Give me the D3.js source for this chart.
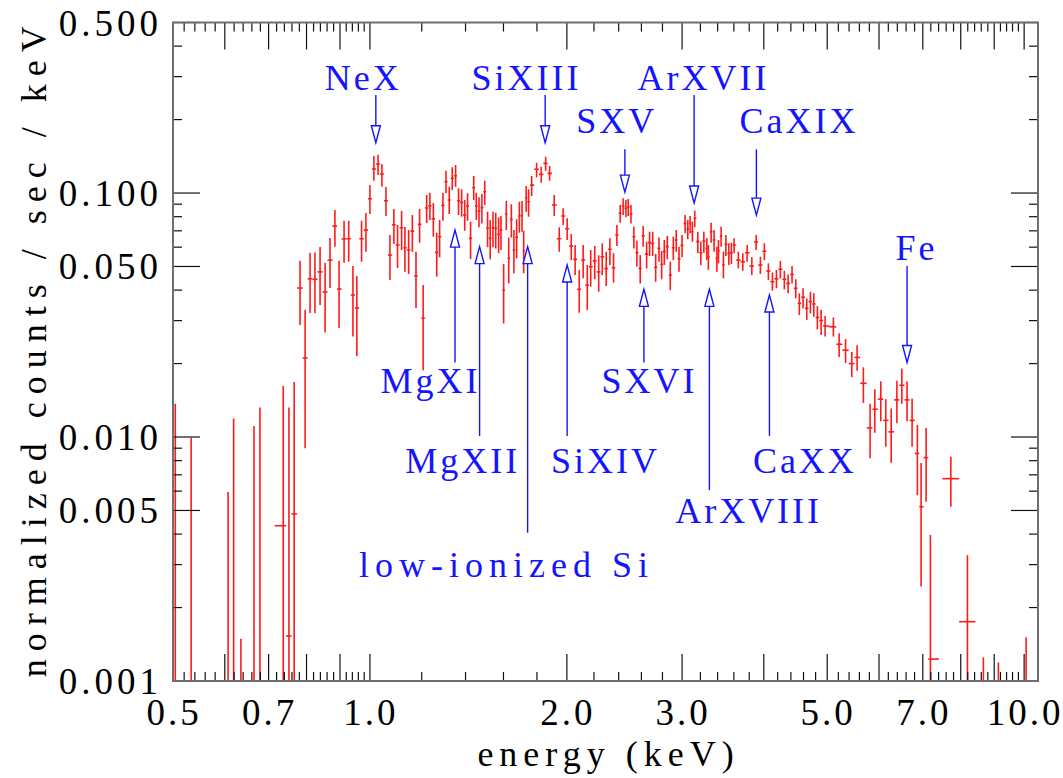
<!DOCTYPE html>
<html>
<head>
<meta charset="utf-8">
<script src="https://cdn.jsdelivr.net/npm/d3@7"></script>
<style>
  body { margin: 0; background: #fff; }
  text { font-family: "Liberation Serif", "Times New Roman", serif; }
</style>
</head>
<body>
<div id="chart"></div>
<script>
// spectrum: bin energy (keV), normalized counts / sec / keV, lower and upper error
var energy = [
  0.504, 0.533, 0.607, 0.619, 0.635, 0.665, 0.679, 0.737, 0.752, 0.766,
  0.782, 0.796, 0.810, 0.824, 0.839, 0.854, 0.869, 0.884, 0.897, 0.913,
  0.928, 0.942, 0.955, 0.971, 0.986, 1.000, 1.014, 1.029, 1.043, 1.058,
  1.073, 1.088, 1.102, 1.118, 1.131, 1.146, 1.161, 1.176, 1.191, 1.206,
  1.221, 1.235, 1.250, 1.265, 1.278, 1.293, 1.307, 1.322, 1.336, 1.352,
  1.366, 1.381, 1.396, 1.410, 1.425, 1.441, 1.454, 1.468, 1.483, 1.498,
  1.513, 1.527, 1.542, 1.557, 1.573, 1.586, 1.601, 1.616, 1.630, 1.645,
  1.660, 1.676, 1.692, 1.708, 1.718, 1.733, 1.748, 1.767, 1.798, 1.827,
  1.856, 1.882, 1.913, 1.947, 1.974, 2.002, 2.031, 2.059, 2.089, 2.118,
  2.149, 2.175, 2.206, 2.237, 2.265, 2.297, 2.327, 2.357, 2.385, 2.413,
  2.438, 2.462, 2.482, 2.506, 2.532, 2.559, 2.589, 2.616, 2.648, 2.676,
  2.705, 2.734, 2.766, 2.792, 2.818, 2.848, 2.878, 2.909, 2.939, 2.968,
  3.000, 3.032, 3.061, 3.086, 3.111, 3.137, 3.171, 3.205, 3.239, 3.273,
  3.291, 3.323, 3.358, 3.391, 3.410, 3.442, 3.470, 3.500, 3.537, 3.569,
  3.603, 3.657, 3.715, 3.772, 3.835, 3.894, 3.952, 4.008, 4.065, 4.123,
  4.182, 4.240, 4.300, 4.357, 4.418, 4.476, 4.533, 4.593, 4.653, 4.713,
  4.770, 4.830, 4.894, 4.963, 5.110, 5.214, 5.334, 5.452, 5.555, 5.679,
  5.815, 5.912, 6.038, 6.145, 6.263, 6.390, 6.502, 6.623, 6.741, 6.868,
  6.958, 7.082, 7.190, 7.726, 8.191, 8.664, 9.134, 10.07
];
var rate = [
  0.0005, 0.0005, 0.0005, 0.0005, 0.0005, 0.0005, 0.0005, 0.00433, 0.00153, 0.00484,
  0.0408, 0.0211, 0.0445, 0.0443, 0.0475, 0.0393, 0.0531, 0.0732, 0.0404, 0.0648,
  0.0650, 0.0382, 0.0338, 0.0650, 0.0705, 0.0948, 0.1254, 0.1315, 0.1196, 0.0930,
  0.0557, 0.0741, 0.0612, 0.0721, 0.0597, 0.0584, 0.0698, 0.0457, 0.0744, 0.0307,
  0.0868, 0.0887, 0.0785, 0.0571, 0.0662, 0.0890, 0.1113, 0.0936, 0.1149, 0.1177,
  0.0930, 0.0916, 0.0812, 0.0885, 0.0652, 0.1051, 0.0885, 0.0844, 0.0871, 0.1012,
  0.0717, 0.0652, 0.0721, 0.0717, 0.0677, 0.0705, 0.0400, 0.0820, 0.0540, 0.0780,
  0.0584, 0.0658, 0.0805, 0.0810, 0.0580, 0.0957, 0.0921, 0.1078, 0.1251, 0.1193,
  0.1323, 0.1204, 0.0893, 0.0650, 0.0805, 0.0714, 0.0606, 0.0535, 0.0403, 0.0531,
  0.0419, 0.0499, 0.0527, 0.0475, 0.0548, 0.0490, 0.0588, 0.0494, 0.0673, 0.0826,
  0.0885, 0.0866, 0.0876, 0.0820, 0.0662, 0.0569, 0.0491, 0.0668, 0.0562, 0.0626,
  0.0622, 0.0496, 0.0593, 0.0510, 0.0575, 0.0603, 0.0461, 0.0597, 0.0642, 0.0538,
  0.0610, 0.0751, 0.0712, 0.0751, 0.0694, 0.0788, 0.0632, 0.0569, 0.0636, 0.0593,
  0.0548, 0.0694, 0.0642, 0.0540, 0.0580, 0.0666, 0.0507, 0.0616, 0.0566, 0.0569,
  0.0612, 0.0531, 0.0523, 0.0569, 0.0502, 0.0630, 0.0507, 0.0577, 0.0479, 0.0433,
  0.0445, 0.0487, 0.0443, 0.0426, 0.0464, 0.0407, 0.0353, 0.0374, 0.0337, 0.0359,
  0.0351, 0.0309, 0.0300, 0.0285, 0.0283, 0.0240, 0.0227, 0.0200, 0.0212, 0.0166,
  0.0109, 0.0130, 0.0143, 0.0117, 0.0105, 0.0142, 0.0163, 0.0142, 0.0117, 0.00857,
  0.00518, 0.00823, 0.00123, 0.00675, 0.00175, 0.0005, 0.0005, 0.0005
];
var rateLo = [
  0.0003, 0.0003, 0.0003, 0.0003, 0.0003, 0.0003, 0.0003, 0.0003, 0.0003, 0.0003,
  0.0288, 0.0090, 0.0322, 0.0322, 0.0348, 0.0268, 0.0408, 0.0603, 0.0280, 0.0518,
  0.0523, 0.0258, 0.0215, 0.0523, 0.0575, 0.0820, 0.1123, 0.1185, 0.1061, 0.0805,
  0.0440, 0.0618, 0.0493, 0.0584, 0.0476, 0.0466, 0.0575, 0.0338, 0.0626, 0.0188,
  0.0753, 0.0775, 0.0662, 0.0454, 0.0545, 0.0770, 0.0997, 0.0820, 0.1029, 0.1061,
  0.0812, 0.0800, 0.0700, 0.0770, 0.0536, 0.0936, 0.0775, 0.0724, 0.0751, 0.0893,
  0.0599, 0.0535, 0.0599, 0.0593, 0.0566, 0.0584, 0.0292, 0.0705, 0.0426, 0.0658,
  0.0469, 0.0540, 0.0688, 0.0694, 0.0469, 0.0838, 0.0800, 0.0972, 0.1160, 0.1102,
  0.1234, 0.1123, 0.0805, 0.0575, 0.0739, 0.0642, 0.0531, 0.0461, 0.0323, 0.0447,
  0.0332, 0.0413, 0.0443, 0.0394, 0.0461, 0.0416, 0.0507, 0.0429, 0.0606, 0.0756,
  0.0812, 0.0795, 0.0805, 0.0751, 0.0593, 0.0499, 0.0426, 0.0603, 0.0491, 0.0552,
  0.0552, 0.0433, 0.0523, 0.0443, 0.0507, 0.0535, 0.0400, 0.0531, 0.0575, 0.0476,
  0.0545, 0.0684, 0.0646, 0.0684, 0.0632, 0.0724, 0.0566, 0.0507, 0.0569, 0.0531,
  0.0484, 0.0626, 0.0575, 0.0476, 0.0515, 0.0603, 0.0447, 0.0552, 0.0507, 0.0512,
  0.0566, 0.0491, 0.0480, 0.0523, 0.0461, 0.0584, 0.0466, 0.0531, 0.0440, 0.0398,
  0.0407, 0.0447, 0.0403, 0.0388, 0.0426, 0.0370, 0.0316, 0.0337, 0.0302, 0.0321,
  0.0311, 0.0276, 0.0262, 0.0258, 0.0258, 0.0213, 0.0201, 0.0176, 0.0187, 0.0138,
  0.00818, 0.0104, 0.0116, 0.00912, 0.00785, 0.0114, 0.0137, 0.0116, 0.00912, 0.00578,
  0.00244, 0.00543, 0.0003, 0.00518, 0.0003, 0.0003, 0.0003, 0.0003
];
var rateHi = [
  0.0137, 0.0099, 0.00595, 0.0119, 0.00149, 0.0111, 0.0132, 0.0162, 0.0132, 0.0168,
  0.0528, 0.0332, 0.0568, 0.0570, 0.0601, 0.0517, 0.0654, 0.0852, 0.0528, 0.0770,
  0.0770, 0.0502, 0.0457, 0.0770, 0.0828, 0.1078, 0.1418, 0.1436, 0.1315, 0.1058,
  0.0673, 0.0860, 0.0739, 0.0844, 0.0726, 0.0705, 0.0812, 0.0575, 0.0860, 0.0420,
  0.0981, 0.1003, 0.0910, 0.0688, 0.0775, 0.1003, 0.1234, 0.1061, 0.1275, 0.1302,
  0.1045, 0.1036, 0.0936, 0.0997, 0.0763, 0.1174, 0.1003, 0.0960, 0.0991, 0.1123,
  0.0838, 0.0775, 0.0838, 0.0830, 0.0795, 0.0805, 0.0512, 0.0930, 0.0658, 0.0899,
  0.0705, 0.0780, 0.0921, 0.0927, 0.0701, 0.1068, 0.1036, 0.1174, 0.1331, 0.1282,
  0.1409, 0.1290, 0.0981, 0.0724, 0.0866, 0.0788, 0.0679, 0.0612, 0.0484, 0.0612,
  0.0507, 0.0584, 0.0606, 0.0556, 0.0622, 0.0575, 0.0652, 0.0566, 0.0739, 0.0893,
  0.0951, 0.0936, 0.0945, 0.0893, 0.0728, 0.0638, 0.0557, 0.0732, 0.0632, 0.0694,
  0.0694, 0.0562, 0.0658, 0.0579, 0.0642, 0.0666, 0.0523, 0.0662, 0.0705, 0.0603,
  0.0673, 0.0812, 0.0775, 0.0805, 0.0763, 0.0846, 0.0694, 0.0632, 0.0694, 0.0652,
  0.0612, 0.0756, 0.0705, 0.0603, 0.0642, 0.0728, 0.0575, 0.0673, 0.0622, 0.0626,
  0.0652, 0.0575, 0.0566, 0.0612, 0.0545, 0.0673, 0.0548, 0.0622, 0.0515, 0.0472,
  0.0484, 0.0527, 0.0480, 0.0464, 0.0502, 0.0443, 0.0388, 0.0407, 0.0370, 0.0394,
  0.0388, 0.0344, 0.0332, 0.0313, 0.0309, 0.0266, 0.0252, 0.0223, 0.0238, 0.0193,
  0.0137, 0.0157, 0.0169, 0.0143, 0.0131, 0.0170, 0.0191, 0.0169, 0.0144, 0.0112,
  0.00782, 0.0109, 0.00397, 0.00831, 0.00328, 0.00125, 0.00119, 0.00151
];

// line identifications: label centre / baseline, arrow energy, tail and tip
var lineNames = ["NeX", "SiXIII", "SXV", "ArXVII", "CaXIX", "Fe",
  "MgXI", "MgXII", "low-ionized Si", "SiXIV", "SXVI", "ArXVIII", "CaXX"];
var nameE = [0.972, 1.726, 2.372, 3.219, 4.505, 6.813, 1.231, 1.379, 1.600, 2.279, 2.660, 3.772, 4.598];
var nameY = [0.264, 0.264, 0.176, 0.264, 0.176, 0.0531, 0.01515, 0.00712, 0.00267, 0.00712, 0.01515, 0.00444, 0.00712];
var arrowE = [1.021, 1.853, 2.453, 3.130, 3.897, 6.623, 1.349, 1.471, 1.742, 2.002, 2.623, 3.303, 4.080];
var arrowTail = [0.252, 0.252, 0.151, 0.252, 0.151, 0.0502, 0.0202, 0.0101, 0.00405, 0.0101, 0.0202, 0.00606, 0.0101];
var arrowTip = [0.1607, 0.1607, 0.1009, 0.0910, 0.0812, 0.0202, 0.0705, 0.0603, 0.0603, 0.0507, 0.0403, 0.0403, 0.0382];

var xTickLabels = [0.5, 0.7, 1.0, 2.0, 3.0, 5.0, 7.0, 10.0];
var yTickLabels = [0.5, 0.1, 0.05, 0.01, 0.005, 0.001];

var width = 1063;
var height = 778;
var plotL = 173, plotR = 1038, plotT = 22.5, plotB = 681;
var longTick = 27, shortTick = 9;
var red = "#ff1a1a", blue = "#1414ff";

/* Scales */
var xScale = d3.scaleLog().domain([0.5, 10.5]).range([plotL, plotR]);
var yScale = d3.scaleLog().domain([0.001, 0.5]).range([plotB, plotT]);

var svg = d3.select("#chart").append("svg")
  .attr("width", width)
  .attr("height", height);

svg.append("defs").append("clipPath").attr("id", "clip")
  .append("rect")
  .attr("x", plotL).attr("y", plotT)
  .attr("width", plotR - plotL).attr("height", plotB - plotT);

/* Bin edges: halfway (in log) to the neighbours, capped */
var maxHalf = 0.013;
var lgE = energy.map(e => Math.log10(e));
var binLo = lgE.map((l, i) => {
  var h = i > 0 ? (l - lgE[i - 1]) / 2 : (lgE[1] - lgE[0]) / 2;
  return Math.pow(10, l - Math.min(h, maxHalf));
});
var binHi = lgE.map((l, i) => {
  var h = i < lgE.length - 1 ? (lgE[i + 1] - l) / 2 : (l - lgE[i - 1]) / 2;
  return Math.pow(10, l + Math.min(h, maxHalf));
});

/* Error crosses */
var pts = svg.append("g").attr("clip-path", "url(#clip)")
  .attr("stroke", red).attr("stroke-width", 1.6).attr("fill", "none");

pts.selectAll(".ev").data(energy).enter()
  .append("line").attr("class", "ev")
  .attr("x1", d => xScale(d)).attr("x2", d => xScale(d))
  .attr("y1", (d, i) => yScale(rateHi[i]))
  .attr("y2", (d, i) => yScale(rateLo[i]));

pts.selectAll(".eh").data(energy).enter()
  .append("line").attr("class", "eh")
  .attr("x1", (d, i) => xScale(binLo[i])).attr("x2", (d, i) => xScale(binHi[i]))
  .attr("y1", (d, i) => yScale(rate[i]))
  .attr("y2", (d, i) => yScale(rate[i]));

/* Axes frame and ticks (inward on all four sides) */
var xMajor = d3.range(5, 10).map(k => k / 10).concat(d3.range(1, 11));
var xMinor = d3.range(25, 50).map(k => k / 50).concat(d3.range(5, 51).map(k => k / 5))
  .filter(v => v < 1 ? Math.abs(v * 10 - Math.round(v * 10)) > 1e-6 : Math.abs(v - Math.round(v)) > 1e-6);
var yAll = [];
[0.001, 0.01, 0.1].forEach(d => d3.range(1, 10).forEach(m => {
  var v = +(d * m).toPrecision(3);
  if (v <= 0.5) yAll.push(v);
}));
var isLabY = v => yTickLabels.some(t => Math.abs(t - v) < 1e-9);

var ax = svg.append("g").attr("stroke", "#111").attr("stroke-width", 1.2);

xMajor.concat(xMinor).forEach(v => {
  var len = xMajor.indexOf(v) >= 0 ? longTick : shortTick;
  var px = xScale(v);
  ax.append("line").attr("x1", px).attr("x2", px).attr("y1", plotB).attr("y2", plotB - len);
  ax.append("line").attr("x1", px).attr("x2", px).attr("y1", plotT).attr("y2", plotT + len);
});
yAll.forEach(v => {
  var len = isLabY(v) ? longTick : shortTick;
  var py = yScale(v);
  ax.append("line").attr("x1", plotL).attr("x2", plotL + len).attr("y1", py).attr("y2", py);
  ax.append("line").attr("x1", plotR).attr("x2", plotR - len).attr("y1", py).attr("y2", py);
});

svg.append("rect")
  .attr("x", plotL).attr("y", plotT)
  .attr("width", plotR - plotL).attr("height", plotB - plotT)
  .attr("fill", "none").attr("stroke", "#6e6e6e").attr("stroke-width", 2);

/* Tick labels */
svg.selectAll(".xl").data(xTickLabels).enter()
  .append("text").attr("class", "xl")
  .attr("x", d => xScale(d) + 1).attr("y", 725)
  .attr("text-anchor", "middle")
  .style("font-size", "37px").style("letter-spacing", "3px")
  .text(d => d.toFixed(1));

svg.selectAll(".yl").data(yTickLabels).enter()
  .append("text").attr("class", "yl")
  .attr("x", plotL - 11).attr("y", d => yScale(d) + 13)
  .attr("text-anchor", "end")
  .style("font-size", "37px").style("letter-spacing", "4px")
  .text(d => d.toFixed(3));

/* Axis titles */
svg.append("text")
  .attr("x", (plotL + plotR) / 2 + 3).attr("y", 766)
  .attr("text-anchor", "middle")
  .style("font-size", "36px").style("letter-spacing", "6px")
  .text("energy (keV)");

svg.append("text")
  .attr("transform", `translate(46, ${(plotT + plotB) / 2 - 4}) rotate(-90)`)
  .attr("text-anchor", "middle")
  .style("font-size", "36px").style("letter-spacing", "8px")
  .text("normalized counts / sec / keV");

/* Line identification arrows */
var ann = svg.append("g");
lineNames.forEach((name, i) => {
  var ax0 = xScale(arrowE[i]);
  var yTail = yScale(arrowTail[i]);
  var yTip = yScale(arrowTip[i]);
  var dir = yTip > yTail ? 1 : -1;
  var yBase = yTip - dir * 17;
  var spacing = /[a-z]{4}/.test(name) ? 6 : 3;
  ann.append("line")
    .attr("x1", ax0).attr("x2", ax0).attr("y1", yTail).attr("y2", yBase)
    .attr("stroke", blue).attr("stroke-width", 1.4);
  ann.append("path")
    .attr("d", `M${ax0 - 4.5},${yBase}L${ax0 + 4.5},${yBase}L${ax0},${yTip}Z`)
    .attr("fill", "#fff").attr("stroke", blue).attr("stroke-width", 1.4);
  ann.append("text")
    .attr("x", xScale(nameE[i]) + spacing / 2).attr("y", yScale(nameY[i]))
    .attr("text-anchor", "middle")
    .attr("fill", blue)
    .style("font-size", "36px").style("letter-spacing", spacing + "px")
    .text(name);
});
</script>
</body>
</html>
